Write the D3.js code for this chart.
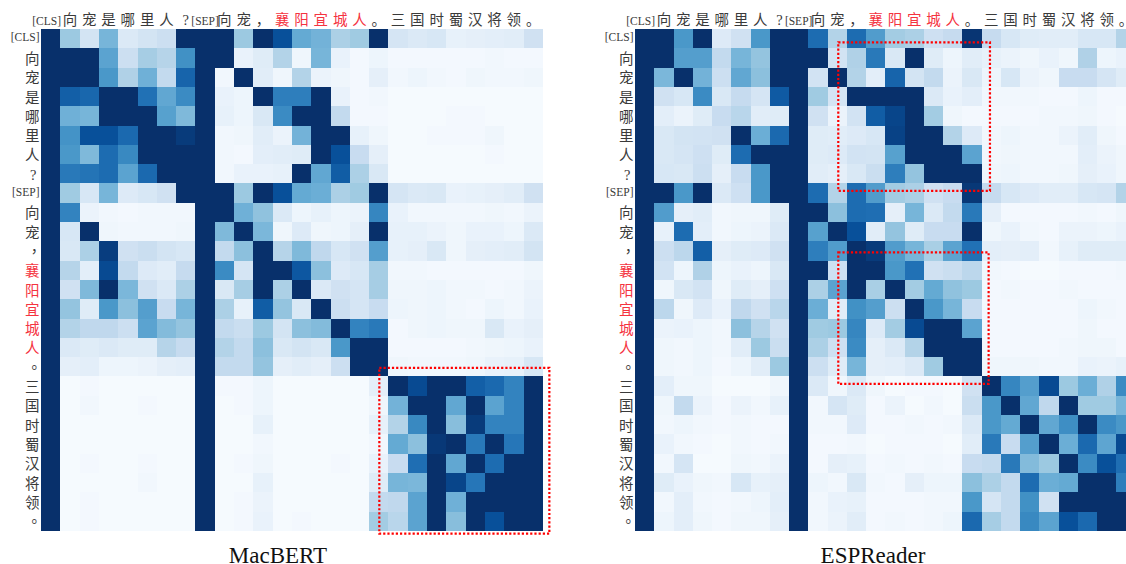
<!DOCTYPE html>
<html>
<head>
<meta charset="utf-8">
<script src="https://cdn.jsdelivr.net/npm/d3@7"></script>
<style>
  html, body { margin: 0; padding: 0; background: #fff; overflow: hidden; }
</style>
</head>
<body>
<svg id="chart" width="1126" height="564"></svg>
<script>
const tokens = ["[CLS]","向","宠","是","哪","里","人","?","[SEP]","向","宠","，","襄","阳","宜","城","人","。","三","国","时","蜀","汉","将","领","。"];
const answerTokens = [12, 13, 14, 15, 16];

// attention weights in percent
const macbertValues = [
  [100,38,18,47,14,18,22,100,100,100,38,100,88,52,48,33,37,100,17,14,16,8,9,10,11,20],
  [100,100,100,55,22,35,30,63,100,100,7,12,31,4,47,7,2,5,2,2,2,2,2,3,2,2],
  [100,100,100,60,32,49,26,80,100,3,100,11,4,31,6,4,2,9,3,5,3,2,4,3,3,4],
  [100,82,79,100,100,75,53,65,100,7,5,100,70,70,100,7,2,3,1,1,1,1,1,1,1,1],
  [100,49,47,100,100,100,56,45,100,8,5,15,65,100,100,26,2,2,1,1,1,2,2,1,1,1],
  [100,62,88,88,78,100,100,96,100,3,4,11,6,48,100,100,8,4,1,1,2,2,2,4,1,1],
  [100,60,45,77,66,100,100,100,100,3,2,10,11,12,100,88,24,9,1,1,1,1,1,2,1,1],
  [100,72,74,77,55,78,100,100,100,3,7,7,8,100,53,83,33,15,1,1,1,1,1,1,1,1],
  [100,37,16,47,13,16,20,100,100,100,38,100,88,52,50,33,37,100,17,14,15,7,8,9,11,20],
  [100,68,6,3,2,3,3,3,100,100,49,41,14,5,8,5,6,67,7,3,3,3,3,4,3,6],
  [100,16,100,4,3,3,3,4,100,45,100,46,4,13,4,5,9,100,8,8,6,4,7,7,5,14],
  [100,15,33,95,20,23,18,16,100,26,42,100,30,45,27,16,20,57,8,9,15,4,9,10,11,18],
  [100,30,10,90,26,13,11,25,100,65,17,100,100,85,42,13,16,35,3,3,2,2,2,2,2,4],
  [100,20,45,100,46,20,14,33,100,15,35,100,33,100,14,20,17,35,4,4,5,3,3,2,3,6],
  [100,40,12,60,42,57,24,47,100,33,8,83,40,15,100,22,17,24,5,4,5,3,2,5,3,7],
  [100,31,27,27,22,55,44,40,100,26,23,38,18,42,44,100,68,72,2,4,5,4,4,15,7,9],
  [100,14,12,14,12,12,30,25,100,31,26,42,15,18,15,60,100,100,2,2,2,2,3,4,5,7],
  [100,9,10,5,5,6,9,10,100,26,26,40,9,11,9,22,100,100,4,3,3,3,4,7,8,16],
  [100,1,2,1,1,1,1,1,100,2,2,5,1,1,1,1,1,9,100,90,100,100,82,78,68,100],
  [100,1,3,1,1,2,1,1,100,1,2,5,1,1,1,1,1,4,48,100,100,53,100,55,68,100],
  [100,1,1,1,1,1,1,1,100,1,1,8,1,1,1,1,1,8,31,66,100,43,96,68,68,100],
  [100,1,1,1,1,1,1,1,100,1,1,3,1,1,1,1,1,3,52,42,97,100,72,100,73,100],
  [100,1,2,1,1,2,1,1,100,1,2,4,1,1,1,2,1,7,24,76,100,53,100,77,100,100],
  [100,1,1,1,1,3,1,1,100,1,1,8,1,1,1,1,1,12,47,46,100,92,73,100,100,100],
  [100,1,2,1,1,1,1,1,100,1,2,6,1,1,1,1,1,26,27,55,100,49,100,100,100,100],
  [100,1,2,1,1,1,1,1,100,1,2,7,1,2,1,1,1,36,29,55,100,43,100,88,100,100]
];

const espreaderValues = [
  [100,100,60,100,13,20,60,100,100,77,31,77,58,36,33,21,25,98,25,16,12,11,11,16,16,31],
  [100,100,57,57,26,47,40,100,100,100,19,32,72,15,100,12,5,11,8,6,4,7,4,32,5,7],
  [100,46,100,48,22,53,42,100,100,19,100,31,10,80,18,26,6,15,5,16,6,4,24,24,17,12],
  [100,20,16,65,15,25,17,84,100,37,17,100,100,100,100,14,7,10,3,3,3,2,2,5,2,2],
  [100,10,6,12,24,29,11,12,100,20,6,19,83,92,100,36,4,2,2,2,2,3,3,4,2,1],
  [100,15,18,19,20,100,50,78,100,12,11,13,16,93,100,100,31,13,3,5,3,3,6,11,4,2],
  [100,15,17,21,12,77,100,100,100,12,13,19,18,56,100,100,100,55,3,4,3,3,3,10,6,4],
  [100,16,15,22,9,24,60,100,100,11,9,15,23,70,40,100,100,100,4,5,3,3,4,9,7,4],
  [100,100,60,100,14,21,60,100,100,77,31,77,58,36,33,20,24,97,25,16,13,11,11,16,17,31],
  [100,58,9,11,3,4,4,12,100,100,42,77,76,9,47,14,26,72,9,2,2,2,2,3,2,4],
  [100,8,77,10,3,5,6,14,100,56,100,88,11,40,12,24,24,100,4,7,3,2,6,6,5,7],
  [100,22,28,82,9,12,13,20,100,70,58,100,96,58,47,34,55,75,10,9,10,3,8,12,12,12],
  [100,19,5,32,5,7,5,15,100,100,21,100,100,60,75,20,23,28,3,2,1,1,2,2,2,3],
  [100,4,15,19,4,12,9,21,100,33,55,100,34,100,36,52,41,38,2,3,2,2,3,2,2,2],
  [100,28,4,13,7,27,20,29,100,50,11,63,57,22,100,60,47,24,2,2,2,2,2,5,3,2],
  [100,6,7,5,3,42,30,20,100,37,38,67,13,36,90,100,100,55,2,2,2,2,2,4,2,2],
  [100,4,3,5,3,11,38,23,100,33,21,65,9,14,31,100,100,100,2,2,2,2,3,4,4,2],
  [100,4,3,5,2,5,11,38,100,22,12,47,9,10,14,37,100,100,4,4,4,3,3,7,6,8],
  [100,10,4,4,1,1,1,4,100,14,4,14,4,1,2,2,1,20,100,67,57,90,38,50,32,65],
  [100,4,26,6,2,6,3,8,100,3,17,12,2,6,1,3,1,23,60,100,53,27,100,37,37,47],
  [100,3,5,3,2,3,2,2,100,3,3,13,2,2,3,2,3,14,60,52,100,53,64,100,65,60],
  [100,7,3,2,1,3,2,3,100,2,2,3,1,2,2,2,1,11,72,24,57,100,50,78,54,90],
  [100,3,17,1,1,4,3,6,100,2,9,8,2,3,2,3,2,24,26,72,44,38,100,65,88,76],
  [100,12,7,4,3,16,8,9,100,5,3,15,3,2,9,5,5,42,33,26,77,50,52,100,100,70],
  [100,3,10,3,2,3,5,10,100,3,7,8,2,2,2,3,3,60,17,26,63,20,100,100,100,100],
  [100,5,10,4,2,4,4,9,100,3,6,11,2,3,2,3,5,78,35,26,66,55,88,78,100,100]
];

// highlight boxes in cell units: [col start, col end, row start, row end]
const macbertBoxes = [[17.53, 26.34, 17.56, 26.15]];
const espreaderBoxes = [[10.56, 18.44, 0.69, 8.39], [10.56, 18.37, 11.57, 18.39]];

const serif = "'Liberation Serif', 'Noto Sans CJK SC', serif";

const svg = d3.select("#chart");

const color = d3.scaleLinear()
    .domain(d3.range(9).map((i) => i * 12.5))
    .range(d3.schemeBlues[9]);

const isPunct = (d) => d === "。" || d === "，";
const isSpecial = (d) => d.startsWith("[");

const labelSize = (d) => isSpecial(d) ? 11.5 : 14.5;

// nudges for the side labels, these are not right aligned in the original
const sideOffset = (d) => {
  if (isPunct(d)) return 2;
  if (d === "?") return -3;
  return 0;
}

const drawPanel = (left, cell, values, boxes, title, titleX) => {
  const top = 29;
  const ids = d3.range(tokens.length);

  const x = d3.scaleBand().domain(ids).range([left, left + cell * tokens.length]);
  const y = d3.scaleBand().domain(ids).range([top, top + 19.3 * tokens.length]);

  const panel = svg.append("g");

  const cells = values.flatMap((row, r) => row.map((v, c) => ({ r, c, v })));

  panel.append("g")
    .attr("shape-rendering", "crispEdges")
    .selectAll("rect")
    .data(cells)
    .enter().append("rect")
      .attr("x", (d) => x(d.c))
      .attr("y", (d) => y(d.r))
      .attr("width", x.bandwidth())
      .attr("height", y.bandwidth())
      .attr("fill", (d) => color(d.v));

  const labelColor = (i) => answerTokens.includes(i) ? "#f5333f" : "#3a3a3a";

  // tokens along the top
  panel.append("g")
    .selectAll("text")
    .data(ids)
    .enter().append("text")
      .text((i) => tokens[i])
      .attr("x", (i) => x(i) + x.bandwidth() / 2 + (i === 0 ? -4 : 0))
      .attr("y", 24.5)
      .attr("text-anchor", "middle")
      .style("font-family", serif)
      .style("font-size", (i) => labelSize(tokens[i]) + "px")
      .style("fill", labelColor);

  // tokens down the left side
  panel.append("g")
    .selectAll("text")
    .data(ids)
    .enter().append("text")
      .text((i) => tokens[i])
      .attr("x", (i) => left - 1.5 + sideOffset(tokens[i]))
      .attr("y", (i) => y(i) + y.bandwidth() / 2 + (isSpecial(tokens[i]) ? 2.5 : 6))
      .attr("text-anchor", "end")
      .style("font-family", (i) => isPunct(tokens[i]) ? "'Noto Sans CJK TC'" : serif)
      .style("font-size", (i) => labelSize(tokens[i]) + "px")
      .style("fill", labelColor);

  const boxX = d3.scaleLinear().domain([0, tokens.length]).range(x.range());
  const boxY = d3.scaleLinear().domain([0, tokens.length]).range(y.range());

  panel.append("g")
    .selectAll("rect")
    .data(boxes)
    .enter().append("rect")
      .attr("x", (d) => boxX(d[0]))
      .attr("y", (d) => boxY(d[2]))
      .attr("width", (d) => boxX(d[1]) - boxX(d[0]))
      .attr("height", (d) => boxY(d[3]) - boxY(d[2]))
      .attr("fill", "none")
      .attr("stroke", "#f00")
      .attr("stroke-width", 2.2)
      .attr("stroke-dasharray", "2.2,2");

  panel.append("text")
    .text(title)
    .attr("x", titleX)
    .attr("y", 563)
    .attr("text-anchor", "middle")
    .style("font-family", serif)
    .style("font-size", "23px")
    .style("fill", "#111");
}

drawPanel(41, 19.3, macbertValues, macbertBoxes, "MacBERT", 278);
drawPanel(635, 19.25, espreaderValues, espreaderBoxes, "ESPReader", 873);
</script>
</body>
</html>
